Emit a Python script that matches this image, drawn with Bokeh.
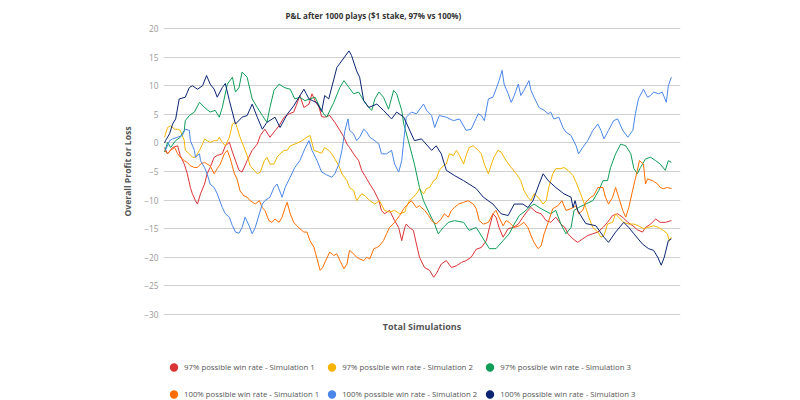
from bokeh.plotting import figure
from bokeh.models import Range1d, FixedTicker, Legend, LegendItem
from bokeh.layouts import column
from bokeh.embed import file_html
from bokeh.resources import INLINE

title_text = "P&L after 1000 plays ($1 stake, 97% vs 100%)"
y_label = "Overall Profit or Loss"
x_label = "Total Simulations"
y_ticks = [-30, -25, -20, -15, -10, -5, 0, 5, 10, 15, 20]

series_names = [
    "97% possible win rate - Simulation 1",
    "97% possible win rate - Simulation 2",
    "97% possible win rate - Simulation 3",
    "100% possible win rate - Simulation 1",
    "100% possible win rate - Simulation 2",
    "100% possible win rate - Simulation 3",
]
series_colors = ["#db3236", "#f4b400", "#0f9d58", "#ff6d00", "#4a86e8", "#0b2474"]

# 97% - Simulation 1 (plays, profit)
r1_x = [0, 6, 16, 26, 31, 39, 45, 51, 55, 61, 65, 71, 79, 84, 90, 98, 104, 114, 120, 128, 134, 140, 147, 153, 163, 173, 183, 189, 198, 208, 216, 226, 236, 246, 255, 261, 267, 275, 285, 291, 297, 305, 310, 316, 326, 336, 346, 354, 360, 365, 373, 383, 389, 395, 405, 413, 423, 428, 434, 444, 454, 462, 468, 474, 477, 483, 491, 497, 503, 513, 523, 531, 536, 546, 556, 566, 576, 586, 595, 605, 615, 625, 635, 641, 648, 654, 660, 668, 678, 688, 698, 707, 717, 723, 733, 743, 753, 762, 772, 782, 790, 796, 806, 815, 825, 835, 845, 855, 865, 874, 884, 894, 904, 914, 924, 933, 943, 949, 959, 969, 978, 988, 1000]
r1_y = [-0.8, -1.9, -0.8, -0.5, -2.2, -3.7, -5.4, -7.8, -8.9, -10.1, -10.7, -8.9, -7.2, -5.4, -4.3, -2.5, -2.2, -1.9, -0.5, 0.1, -1.6, -3.1, -4.8, -5.1, -3.1, -1.3, -0.2, 1.3, 2.4, 1.0, 1.9, 3.0, 4.5, 5.1, 5.4, 6.8, 8.3, 6.2, 6.8, 8.6, 7.4, 6.2, 4.6, 4.5, 4.8, 3.6, 2.2, 1.0, -0.2, -0.8, -1.9, -3.1, -4.8, -5.7, -7.2, -8.3, -10.1, -11.8, -12.4, -11.8, -13.6, -14.8, -17.1, -14.8, -14.2, -14.8, -15.3, -17.7, -20.0, -21.8, -22.3, -23.5, -22.9, -21.2, -20.6, -21.8, -21.5, -20.9, -20.6, -20.0, -18.6, -18.3, -17.1, -14.8, -12.4, -13.0, -14.8, -16.5, -15.0, -14.8, -14.2, -13.0, -11.8, -11.3, -12.1, -12.4, -13.6, -13.9, -13.0, -14.2, -14.8, -15.9, -16.8, -17.4, -16.8, -16.2, -15.9, -15.6, -14.8, -13.9, -12.7, -12.4, -13.0, -13.9, -14.5, -15.2, -15.6, -14.8, -14.2, -13.3, -13.9, -13.9, -13.6]

# 97% - Simulation 2
y2_x = [0, 6, 12, 20, 26, 31, 39, 41, 49, 55, 61, 69, 75, 79, 84, 90, 98, 104, 108, 114, 120, 128, 134, 140, 143, 149, 157, 163, 169, 177, 183, 189, 197, 202, 208, 216, 222, 228, 236, 242, 248, 257, 265, 271, 281, 287, 295, 301, 310, 316, 324, 330, 336, 344, 350, 360, 365, 373, 379, 389, 395, 405, 415, 424, 434, 444, 454, 464, 474, 477, 483, 491, 497, 503, 511, 517, 523, 531, 536, 542, 550, 556, 562, 570, 576, 582, 590, 595, 601, 609, 619, 625, 631, 639, 645, 650, 658, 664, 674, 684, 694, 703, 709, 717, 723, 729, 737, 747, 753, 758, 766, 772, 782, 788, 796, 806, 812, 821, 831, 837, 845, 855, 861, 867, 874, 884, 890, 896, 906, 916, 926, 935, 945, 953, 965, 975, 984, 992, 996, 1000]
y2_y = [1.0, 2.7, 3.0, 2.4, 2.4, 2.2, 0.4, -1.3, -1.9, -2.5, -2.5, -1.3, -0.2, 0.7, 0.4, 0.1, 0.4, 0.4, 1.0, 0.1, -0.5, 1.0, 3.3, 3.6, 2.7, 1.0, -0.8, -2.2, -4.0, -4.8, -5.4, -5.1, -3.1, -2.5, -3.7, -3.7, -2.5, -1.9, -1.3, -1.3, -0.5, -0.2, 0.1, 0.4, 1.0, 1.3, -1.3, -1.5, -1.8, -0.8, -1.3, -1.9, -2.8, -4.0, -5.4, -6.6, -7.8, -8.3, -10.1, -8.9, -9.2, -10.1, -10.7, -10.1, -11.8, -12.1, -11.8, -12.4, -12.1, -11.3, -10.1, -9.5, -8.9, -8.0, -8.9, -8.0, -7.8, -6.6, -6.3, -4.8, -4.0, -3.7, -1.9, -2.2, -1.3, -2.2, -3.7, -2.2, -0.8, -0.5, -1.3, -1.9, -3.7, -5.4, -3.7, -2.5, -1.3, -1.6, -3.1, -4.3, -5.4, -6.6, -8.3, -9.5, -10.1, -8.9, -9.5, -10.7, -10.1, -7.8, -5.4, -4.5, -4.5, -4.3, -4.8, -5.7, -6.9, -8.9, -11.3, -13.0, -14.8, -15.6, -16.5, -16.2, -14.2, -13.9, -12.4, -13.0, -13.9, -14.2, -14.2, -14.5, -15.0, -14.8, -14.5, -14.8, -15.3, -15.9, -17.1, -16.5]

# 97% - Simulation 3
g3_x = [0, 6, 12, 22, 31, 39, 41, 49, 59, 69, 79, 90, 100, 108, 114, 124, 134, 140, 147, 153, 163, 173, 183, 193, 202, 208, 216, 226, 236, 248, 257, 267, 277, 287, 297, 307, 314, 320, 334, 346, 354, 364, 373, 383, 393, 403, 409, 415, 423, 432, 442, 452, 458, 468, 472, 481, 493, 503, 511, 523, 533, 540, 550, 560, 572, 590, 601, 615, 629, 641, 654, 668, 680, 690, 700, 709, 719, 729, 739, 749, 762, 772, 782, 792, 802, 808, 817, 831, 845, 857, 865, 874, 880, 890, 900, 910, 920, 926, 933, 939, 949, 959, 969, 978, 988, 994, 1000]
g3_y = [-1.6, 0.1, -0.8, 0.4, 1.0, 2.2, 3.9, 4.8, 5.4, 7.1, 6.2, 5.4, 5.7, 4.5, 6.2, 10.3, 11.5, 8.9, 9.7, 12.4, 11.5, 7.7, 6.2, 4.8, 3.6, 6.2, 9.2, 10.3, 9.7, 9.4, 7.7, 8.0, 7.4, 7.7, 8.0, 6.2, 5.1, 4.5, 7.1, 9.7, 10.9, 9.7, 8.6, 8.9, 7.4, 6.2, 5.7, 7.7, 8.9, 8.0, 5.9, 9.2, 8.6, 5.7, 3.3, 0.4, -3.7, -7.8, -10.1, -12.4, -14.2, -15.9, -14.8, -13.9, -13.6, -13.9, -15.3, -14.8, -16.8, -18.5, -18.5, -17.1, -15.9, -14.2, -12.7, -12.1, -11.3, -10.7, -11.3, -11.8, -12.4, -11.8, -14.2, -15.9, -14.8, -11.8, -11.3, -10.7, -10.1, -8.3, -6.6, -6.6, -4.3, -1.9, -0.2, -0.5, -1.9, -4.5, -5.4, -4.3, -2.8, -2.5, -3.1, -3.7, -4.8, -3.1, -3.4]

# 100% - Simulation 1
o1_x = [0, 6, 12, 20, 26, 31, 39, 45, 51, 59, 65, 71, 79, 84, 90, 98, 104, 110, 118, 124, 130, 138, 143, 149, 157, 163, 169, 179, 187, 193, 198, 206, 212, 218, 226, 232, 238, 242, 248, 255, 261, 267, 275, 281, 287, 295, 301, 307, 312, 318, 326, 334, 340, 346, 354, 360, 365, 373, 379, 385, 393, 399, 405, 413, 419, 424, 432, 438, 444, 454, 464, 472, 477, 487, 497, 503, 513, 521, 527, 536, 546, 552, 560, 566, 572, 580, 590, 599, 609, 615, 621, 629, 639, 648, 654, 660, 668, 674, 680, 690, 700, 709, 717, 723, 729, 737, 743, 749, 757, 766, 776, 784, 792, 802, 812, 817, 825, 831, 841, 847, 855, 865, 870, 876, 884, 890, 896, 904, 910, 916, 922, 928, 933, 937, 945, 949, 953, 963, 973, 978, 984, 992, 1000]
o1_y = [-1.3, -1.9, -1.3, -0.8, -1.9, -2.5, -3.1, -3.4, -4.0, -4.3, -4.3, -3.7, -3.4, -3.7, -4.0, -5.4, -4.5, -3.7, -1.9, -1.3, -2.8, -5.4, -6.3, -8.4, -9.3, -9.5, -10.1, -10.7, -10.1, -11.3, -11.8, -13.6, -13.9, -13.3, -13.9, -13.0, -11.3, -10.4, -12.4, -13.9, -14.5, -15.0, -15.6, -15.6, -17.1, -18.3, -20.3, -22.3, -21.8, -20.6, -19.1, -19.7, -19.4, -20.6, -22.0, -21.2, -18.8, -19.4, -20.0, -20.3, -20.6, -20.0, -20.3, -18.5, -18.3, -18.0, -17.1, -15.9, -14.8, -13.9, -12.7, -11.5, -11.0, -10.1, -11.3, -11.0, -11.8, -12.7, -13.6, -14.2, -13.3, -12.4, -13.0, -11.8, -11.3, -10.7, -10.4, -10.1, -10.7, -11.5, -13.6, -14.2, -13.9, -12.4, -11.8, -13.0, -14.5, -13.6, -13.9, -14.8, -14.5, -13.9, -14.8, -16.2, -17.4, -18.5, -18.0, -15.9, -13.9, -11.5, -11.0, -10.1, -11.8, -11.5, -11.0, -12.4, -11.8, -10.4, -9.5, -9.2, -7.8, -7.8, -9.5, -10.7, -9.5, -7.8, -9.5, -11.8, -13.0, -11.3, -8.9, -6.6, -4.8, -3.1, -3.7, -7.2, -6.3, -6.6, -7.2, -7.8, -8.0, -7.8, -8.0]

# 100% - Simulation 2
b2_x = [2, 10, 16, 26, 35, 41, 49, 51, 59, 61, 69, 71, 79, 84, 90, 98, 104, 114, 120, 128, 134, 140, 147, 153, 159, 167, 173, 179, 187, 193, 198, 208, 216, 222, 232, 238, 248, 257, 267, 277, 285, 291, 301, 310, 320, 330, 336, 344, 350, 356, 362, 365, 373, 379, 385, 393, 399, 405, 415, 423, 428, 438, 448, 454, 462, 468, 472, 477, 487, 497, 511, 517, 527, 533, 542, 556, 570, 582, 595, 605, 619, 625, 631, 639, 648, 654, 660, 666, 670, 678, 684, 690, 698, 703, 709, 719, 723, 729, 739, 749, 757, 762, 768, 778, 786, 792, 802, 812, 817, 825, 835, 845, 855, 861, 867, 876, 886, 894, 904, 914, 924, 929, 935, 945, 953, 959, 965, 975, 982, 990, 994, 1000]
b2_y = [-1.3, 0.4, 0.7, 1.0, 1.3, 2.4, 2.2, 0.4, -1.3, -2.5, -1.9, -3.1, -4.3, -5.4, -7.2, -7.8, -8.9, -11.3, -12.4, -13.0, -14.5, -15.6, -15.8, -14.8, -13.0, -14.5, -15.9, -14.8, -12.4, -10.7, -10.1, -9.5, -7.8, -7.2, -9.5, -7.8, -6.0, -4.3, -3.1, -1.0, 0.4, -1.3, -3.1, -5.1, -5.6, -6.0, -5.4, -3.7, -1.3, 2.2, 4.2, 2.2, 1.6, 0.4, 1.0, 2.4, 1.9, 1.0, 0.4, -0.2, -1.9, -1.9, -1.3, -3.7, -5.1, -3.1, 0.4, 4.5, 5.4, 5.1, 6.8, 5.7, 4.8, 2.7, 4.8, 4.5, 3.9, 4.2, 2.2, 2.4, 5.1, 4.8, 3.9, 7.7, 8.0, 9.4, 10.9, 12.7, 10.3, 8.6, 7.1, 8.3, 10.3, 8.3, 9.2, 10.9, 9.2, 8.0, 6.2, 5.7, 5.1, 5.4, 4.2, 4.5, 2.7, 1.9, 1.3, -0.5, -1.9, -0.8, 0.4, 2.2, 3.3, 2.2, 0.7, 2.2, 3.9, 4.2, 2.2, 1.0, 2.2, 5.1, 7.7, 9.4, 8.0, 8.3, 8.9, 8.6, 8.9, 7.1, 10.0, 11.5]

# 100% - Simulation 3
n3_x = [0, 2, 10, 16, 22, 29, 41, 49, 55, 65, 75, 83, 90, 98, 104, 114, 120, 128, 140, 153, 163, 173, 183, 193, 202, 218, 228, 242, 255, 275, 285, 301, 310, 316, 324, 340, 364, 369, 379, 385, 393, 403, 419, 432, 448, 458, 472, 493, 507, 527, 536, 546, 556, 572, 590, 615, 629, 648, 664, 678, 690, 707, 717, 727, 739, 747, 757, 772, 788, 802, 806, 810, 815, 831, 851, 867, 876, 890, 906, 916, 926, 943, 955, 965, 973, 980, 986, 994, 1000]
n3_y = [0.0, 0.4, 1.6, 3.3, 4.2, 7.7, 8.0, 9.7, 10.0, 9.4, 10.0, 11.8, 10.3, 9.4, 8.0, 9.7, 10.4, 7.4, 3.3, 4.5, 4.8, 6.8, 4.5, 2.4, 3.6, 4.5, 2.7, 5.0, 6.5, 9.4, 7.7, 7.0, 5.5, 8.3, 7.7, 13.2, 16.1, 15.3, 12.6, 11.5, 7.4, 6.2, 6.8, 5.7, 4.2, 5.4, 4.5, 0.4, 0.7, -1.3, -0.5, -1.9, -4.8, -5.7, -6.6, -8.0, -9.5, -10.7, -12.4, -12.7, -10.7, -10.7, -11.3, -10.1, -7.2, -5.4, -6.6, -7.8, -8.9, -9.5, -11.3, -10.1, -11.8, -14.1, -14.5, -16.5, -17.4, -15.6, -13.9, -14.8, -15.9, -17.7, -18.5, -18.8, -20.0, -21.4, -20.0, -17.1, -16.8]

xs = [r1_x, y2_x, g3_x, o1_x, b2_x, n3_x]
ys = [r1_y, y2_y, g3_y, o1_y, b2_y, n3_y]

FONT = "Open Sans"

# ---- main chart (frame from x=163..680, y=27..315) ----
p = figure(width=800, height=340, output_backend="svg", toolbar_location=None,
           x_range=Range1d(-2, 1018), y_range=Range1d(-30.2, 20.2),
           min_border_left=163, min_border_right=120,
           min_border_top=27, min_border_bottom=25)

p.title.text = title_text
p.title.align = "left"
p.title.offset = 122
p.title.text_font = FONT
p.title.text_font_size = "8px"
p.title.text_font_style = "bold"
p.title.text_color = "#333333"
p.title.standoff = 14

p.outline_line_color = None
p.background_fill_color = "white"
p.border_fill_color = "white"

p.xgrid.visible = False
p.ygrid.ticker = FixedTicker(ticks=y_ticks)
p.ygrid.grid_line_color = "#d0d0d0"
p.ygrid.grid_line_width = 1

p.yaxis.ticker = FixedTicker(ticks=y_ticks)
p.yaxis.axis_line_color = None
p.yaxis.major_tick_line_color = None
p.yaxis.minor_tick_line_color = None
p.yaxis.major_tick_out = 0
p.yaxis.major_tick_in = 0
p.yaxis.major_label_standoff = 5
p.yaxis.major_label_text_font = FONT
p.yaxis.major_label_text_font_size = "8.3px"
p.yaxis.major_label_text_color = "#999999"
p.yaxis.axis_label = y_label
p.yaxis.axis_label_text_font = FONT
p.yaxis.axis_label_text_font_size = "8.6px"
p.yaxis.axis_label_text_font_style = "bold"
p.yaxis.axis_label_text_color = "#555555"
p.yaxis.axis_label_standoff = 7

p.xaxis.ticker = FixedTicker(ticks=[])
p.xaxis.axis_line_color = None
p.xaxis.major_tick_line_color = None
p.xaxis.minor_tick_line_color = None
p.xaxis.major_tick_out = 0
p.xaxis.major_tick_in = 0
p.xaxis.major_label_standoff = 0
p.xaxis.axis_label = x_label
p.xaxis.axis_label_text_font = FONT
p.xaxis.axis_label_text_font_size = "9px"
p.xaxis.axis_label_text_font_style = "bold"
p.xaxis.axis_label_text_color = "#555555"
p.xaxis.axis_label_standoff = 4

for color, x, y in zip(series_colors, xs, ys):
    p.line(x, y, line_color=color, line_width=1)

# ---- legend strip below the chart (its frame is aligned with the chart's frame) ----
lg = figure(width=800, height=60, output_backend="svg", toolbar_location=None,
            x_range=Range1d(-1, 0), y_range=Range1d(-100, -99),
            min_border_left=0, min_border_right=0, min_border_top=0, min_border_bottom=0)
lg.axis.visible = False
lg.grid.visible = False
lg.outline_line_color = None
lg.background_fill_color = "white"
lg.border_fill_color = "white"

items = []
for name, color, x, y in zip(series_names, series_colors, xs, ys):
    # last point of each series, outside this strip's ranges: only the legend swatch shows
    swatch = lg.scatter(x=[x[-1]], y=[y[-1]], marker="circle", size=9,
                        fill_color=color, line_color=None)
    items.append(LegendItem(label=name, renderers=[swatch]))

legend = Legend(items=items, ncols=3, orientation="horizontal",
                location=(0, -6.5), padding=0, margin=0,
                glyph_width=21, glyph_height=22, label_height=25,
                label_standoff=0, spacing=2,
                label_text_font=FONT, label_text_font_size="7.8px",
                label_text_color="#555555",
                border_line_color=None, background_fill_alpha=0)
lg.add_layout(legend, "center")

open("out.html", "w").write(file_html(column(p, lg), INLINE))
